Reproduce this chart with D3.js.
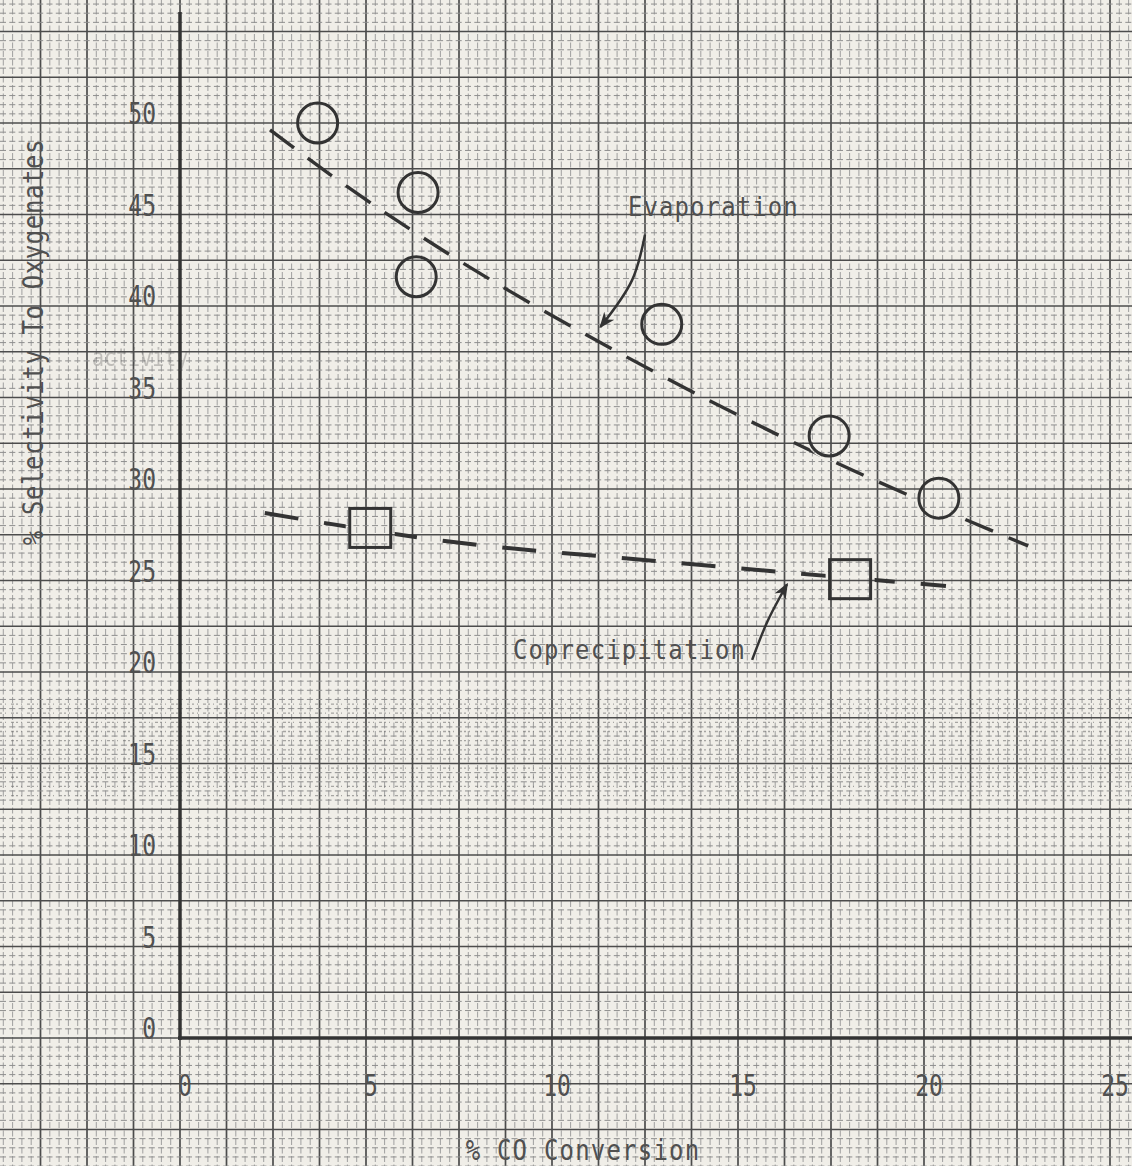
<!DOCTYPE html>
<html><head><meta charset="utf-8">
<script src="https://cdn.jsdelivr.net/npm/d3@7"></script>
<style>
html,body{margin:0;padding:0;background:#efede7;}
svg{display:block;}
.mono{font-family:"DejaVu Sans Mono","Liberation Mono",monospace;fill:#505050;}
</style></head>
<body>
<svg id="chart" width="1132" height="1166"></svg>
<script>
// ---- data ----
const xTicks = [0, 5, 10, 15, 20, 25];
const yTicks = [0, 5, 10, 15, 20, 25, 30, 35, 40, 45, 50];
const evapX = [3.7, 6.4, 6.35, 12.95, 17.45, 20.4];
const evapY = [50.0, 46.2, 41.6, 39.0, 32.9, 29.5];
const coprecX = [5.1, 18.0];
const coprecY = [27.9, 25.1];
// hand-drawn trend curves
const evapFitX = [2.42, 4.17, 7.26, 11.42, 17.2, 22.8];
const evapFitY = [49.62, 46.99, 42.79, 37.87, 31.86, 26.89];
const coprecFitX = [2.28, 7.12, 13.12, 20.59];
const coprecFitY = [28.69, 27.16, 26.01, 24.7];
const evapLabel = "Evaporation";
const coprecLabel = "Coprecipitation";
const xTitle = "% CO Conversion";
const yTitle = "% Selectivity To Oxygenates";
const evapArrowX = [12.5, 12.15, 11.3];
const evapArrowY = [43.9, 41.4, 38.85];
const coprecArrowX = [15.38, 15.8, 16.32];
const coprecArrowY = [20.66, 22.8, 24.8];

// ---- scales ----
const W = 1132, H = 1166;
const x = d3.scaleLinear().domain([0, 25]).range([180, 1110]);
const y = d3.scaleLinear().domain([0, 50]).range([1038, 123]);
const svg = d3.select("#chart");
const defs = svg.append("defs");

// paper
svg.append("rect").attr("width", W).attr("height", H).attr("fill", "#f0eee8");

// graph-paper grid (minor every 0.25 in x, 0.5 in y; major every 1.25 / 2.5)
const gx = d3.range(-20, 104).map(i => i * 0.25);
const gy = d3.range(-14, 114).map(i => i * 0.5);
const isMajX = d => Math.round(d * 4) % 5 === 0;
const isMajY = d => Math.round(d * 2) % 5 === 0;
const grid = svg.append("g");
grid.selectAll(".v").data(gx).join("line")
  .attr("x1", d => x(d)).attr("x2", d => x(d)).attr("y1", 0).attr("y2", H)
  .attr("stroke", d => isMajX(d) ? "#4c4c4c" : "#969696")
  .attr("stroke-width", d => isMajX(d) ? 1.7 : 0.9)
  .attr("stroke-dasharray", d => isMajX(d) ? null : "6,2.5");
grid.selectAll(".h").data(gy).join("line")
  .attr("y1", d => y(d)).attr("y2", d => y(d)).attr("x1", 0).attr("x2", W)
  .attr("stroke", d => isMajY(d) ? "#4c4c4c" : "#8e8e8e")
  .attr("stroke-width", d => isMajY(d) ? 1.7 : 1)
  .attr("stroke-dasharray", d => isMajY(d) ? null : "6,3.3");

// scan noise band around 15
const noiseY = d3.range(13.25, 18.5, 0.5);
svg.append("g").selectAll("line").data(noiseY).join("line")
  .attr("x1", 0).attr("x2", W).attr("y1", d => y(d)).attr("y2", d => y(d))
  .attr("stroke", "#6a6a6a").attr("stroke-width", 1.3)
  .attr("stroke-dasharray", "2,3,1,5,3,2").attr("opacity", 0.55);

// axes
svg.append("line").attr("x1", x(0)).attr("x2", x(0)).attr("y1", 12).attr("y2", y(0) + 2)
  .attr("stroke", "#333").attr("stroke-width", 3.5);
svg.append("line").attr("x1", x(0) - 2).attr("x2", W).attr("y1", y(0)).attr("y2", y(0))
  .attr("stroke", "#333").attr("stroke-width", 3.5);

// tick labels
svg.append("g").selectAll("text").data(yTicks).join("text")
  .attr("class", "mono").attr("text-anchor", "end").attr("font-size", 23)
  .attr("transform", d => `translate(156,${y(d) + 1}) scale(1,1.3)`)
  .text(d => d);
svg.append("g").selectAll("text").data(xTicks).join("text")
  .attr("class", "mono").attr("text-anchor", "middle").attr("font-size", 23)
  .attr("transform", d => `translate(${x(d) + 5},${1096}) scale(1,1.3)`)
  .text(d => d);

// axis titles
svg.append("text").attr("class", "mono").attr("font-size", 24).attr("text-anchor", "middle")
  .attr("letter-spacing", 0.6)
  .attr("transform", `translate(43,342) rotate(-90) scale(1,1.15)`).text(yTitle);
svg.append("text").attr("class", "mono").attr("font-size", 24).attr("text-anchor", "middle")
  .attr("letter-spacing", 1.2)
  .attr("transform", `translate(583,1160) scale(1,1.15)`).text(xTitle);

// ghost text
svg.append("text").attr("class", "mono").attr("font-size", 20).attr("opacity", 0.3)
  .attr("transform", `translate(92,366) scale(1,1.2)`).text("activity");

// mask so that trend curves break at the markers
const mask = defs.append("mask").attr("id", "mk").attr("maskUnits", "userSpaceOnUse")
  .attr("x", 0).attr("y", 0).attr("width", W).attr("height", H);
mask.append("rect").attr("width", W).attr("height", H).attr("fill", "white");
mask.selectAll("circle").data(evapX.map((v, i) => [v, evapY[i]])).join("circle")
  .attr("cx", d => x(d[0])).attr("cy", d => y(d[1])).attr("r", 23).attr("fill", "black");
mask.selectAll("rect.s").data(coprecX.map((v, i) => [v, coprecY[i]])).join("rect")
  .attr("class", "s")
  .attr("x", d => x(d[0]) - 24).attr("y", d => y(d[1]) - 23).attr("width", 49).attr("height", 47)
  .attr("fill", "black");

// fit curves
const line = d3.line().x(d => x(d[0])).y(d => y(d[1])).curve(d3.curveMonotoneX);
const fits = svg.append("g").attr("mask", "url(#mk)");
fits.append("path").datum(evapFitX.map((v, i) => [v, evapFitY[i]]))
  .attr("d", line).attr("fill", "none").attr("stroke", "#333").attr("stroke-width", 3.4)
  .attr("stroke-dasharray", "30,17");
fits.append("path").datum(coprecFitX.map((v, i) => [v, coprecFitY[i]]))
  .attr("d", line).attr("fill", "none").attr("stroke", "#333").attr("stroke-width", 4)
  .attr("stroke-dasharray", "34,26");

// markers
svg.append("g").selectAll("circle").data(evapX.map((v, i) => [v, evapY[i]])).join("circle")
  .attr("cx", d => x(d[0])).attr("cy", d => y(d[1])).attr("r", 20)
  .attr("fill", "none").attr("stroke", "#333").attr("stroke-width", 3);
svg.append("g").selectAll("rect").data(coprecX.map((v, i) => [v, coprecY[i]])).join("rect")
  .attr("x", d => x(d[0]) - 20).attr("y", d => y(d[1]) - 19).attr("width", 41).attr("height", 39)
  .attr("fill", "none").attr("stroke", "#333").attr("stroke-width", 3);

// annotations
defs.append("marker").attr("id", "ah").attr("viewBox", "0 0 10 10")
  .attr("refX", 9).attr("refY", 5)
  .attr("markerUnits", "userSpaceOnUse").attr("orient", "auto")
  .attr("markerWidth", 16).attr("markerHeight", 16)
  .append("path").attr("d", "M0,1 L10,5 L0,9 L3,5 Z").attr("fill", "#333");
const curve = d3.line().x(d => x(d[0])).y(d => y(d[1])).curve(d3.curveCatmullRom);
svg.append("path").datum(evapArrowX.map((v, i) => [v, evapArrowY[i]]))
  .attr("d", curve).attr("fill", "none").attr("stroke", "#333").attr("stroke-width", 2.5)
  .attr("marker-end", "url(#ah)");
svg.append("path").datum(coprecArrowX.map((v, i) => [v, coprecArrowY[i]]))
  .attr("d", curve).attr("fill", "none").attr("stroke", "#333").attr("stroke-width", 2.5)
  .attr("marker-end", "url(#ah)");

svg.append("text").attr("class", "mono").attr("font-size", 24).attr("letter-spacing", 1.1)
  .attr("transform", `translate(${x(12.04)},${y(44.9)}) scale(1,1.12)`).text(evapLabel);
svg.append("text").attr("class", "mono").attr("font-size", 24).attr("letter-spacing", 1.1)
  .attr("transform", `translate(${x(8.95)},${y(20.7)}) scale(1,1.12)`).text(coprecLabel);
</script>
</body></html>
